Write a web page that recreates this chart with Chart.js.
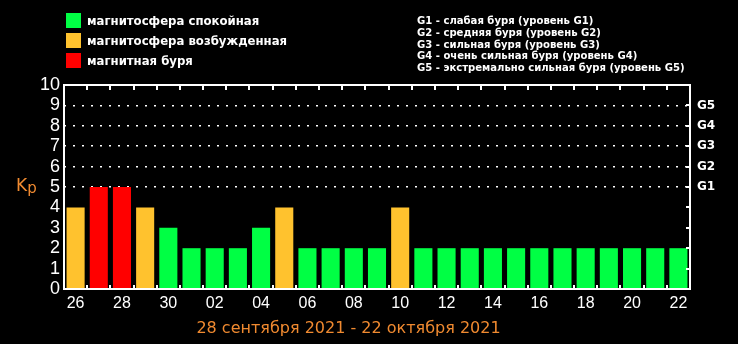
<!DOCTYPE html>
<html>
<head>
<meta charset="utf-8">
<script src="https://cdn.jsdelivr.net/npm/chart.js@4"></script>
<style>
  body { margin: 0; background: #000; }
  #wrap { position: relative; width: 738px; height: 344px; background: #000; overflow: hidden; }
  #kpChart { position: absolute; left: 0; top: 0; }
  .legend { position: absolute; left: 66px; top: 13px; font: bold 13px "DejaVu Sans Condensed", "DejaVu Sans", sans-serif; color: #fff; }
  .legend div { height: 20px; line-height: 16px; white-space: nowrap; }
  .legend span { display: inline-block; width: 15px; height: 15px; vertical-align: -3px; margin-right: 6px; }
  .glegend { position: absolute; left: 417px; top: 15px; font: bold 11.2px "DejaVu Sans Condensed", "DejaVu Sans", sans-serif; color: #fff; line-height: 11.8px; white-space: nowrap; }
  .kp { position: absolute; left: 16px; top: 175px; font: 17px "DejaVu Sans", sans-serif; color: #f08a30; }
  .period { position: absolute; left: 0; width: 697px; top: 318px; text-align: center; font: 16px "DejaVu Sans", sans-serif; color: #f08a30; }
</style>
</head>
<body>
<div id="wrap">
  <canvas id="kpChart" width="738" height="344"></canvas>
  <div class="legend" id="legend"></div>
  <div class="glegend" id="glegend"></div>
  <div class="kp">K<sub style="font-size:15px;vertical-align:-2px">p</sub></div>
  <div class="period" id="period"></div>
</div>
<script>
const days = ['26', '27', '28', '29', '30', '01', '02', '03', '04', '05', '06', '07', '08', '09', '10',
              '11', '12', '13', '14', '15', '16', '17', '18', '19', '20', '21', '22'];
const kp = [4, 5, 5, 4, 3, 2, 2, 2, 3, 4, 2, 2, 2, 2, 4, 2, 2, 2, 2, 2, 2, 2, 2, 2, 2, 2, 2];

const stateLabels = ['магнитосфера спокойная', 'магнитосфера возбужденная', 'магнитная буря'];
const gLevels = ['G1', 'G2', 'G3', 'G4', 'G5'];
const gNames = ['слабая буря', 'средняя буря', 'сильная буря', 'очень сильная буря', 'экстремально сильная буря'];
const gKp = [5, 6, 7, 8, 9];
const periodText = '28 сентября 2021 - 22 октября 2021';

const stateColors = ['#00ff44', '#ffc22e', '#ff0000'];

function colorFor(v) {
    if (v >= 5) return stateColors[2];
    if (v >= 4) return stateColors[1];
    return stateColors[0];
}

document.getElementById('legend').innerHTML = stateLabels
    .map((t, i) => `<div><span style="background:${stateColors[i]}"></span>${t}</div>`).join('');
document.getElementById('glegend').innerHTML = gLevels
    .map((g, i) => `${g} - ${gNames[i]} (уровень ${g})`).join('<br>');
document.getElementById('period').textContent = periodText;

// рамка графика с внутренними рисками
const framePlugin = {
    id: 'frame',
    afterDraw(chart) {
        const { ctx, chartArea: a } = chart;
        const x = chart.scales.x;
        const y = chart.scales.y;
        ctx.save();
        ctx.strokeStyle = '#fff';
        ctx.lineWidth = 2;
        ctx.beginPath();
        ctx.rect(a.left, a.top, a.right - a.left, a.bottom - a.top);
        for (let i = 1; i < days.length; i++) {
            const px = Math.round(x.getPixelForValue(i - 0.5));
            ctx.moveTo(px, a.top); ctx.lineTo(px, a.top + 5);
            ctx.moveTo(px, a.bottom); ctx.lineTo(px, a.bottom - 4);
        }
        for (let v = 1; v < 10; v++) {
            const py = Math.round(y.getPixelForValue(v));
            ctx.moveTo(a.right, py); ctx.lineTo(a.right - 4, py);
        }
        ctx.stroke();
        ctx.restore();
    }
};

new Chart(document.getElementById('kpChart'), {
    type: 'bar',
    data: {
        labels: days,
        datasets: [{
            data: kp,
            backgroundColor: kp.map(colorFor),
            borderWidth: 0,
            barPercentage: 0.78,
            categoryPercentage: 1
        }]
    },
    options: {
        responsive: false,
        devicePixelRatio: 1,
        animation: false,
        layout: { padding: { top: 85, left: 0, right: 0, bottom: 0 } },
        plugins: { legend: { display: false }, tooltip: { enabled: false } },
        scales: {
            x: {
                afterFit: s => { s.height = 55; },
                grid: { display: false, drawTicks: false },
                border: { display: false },
                ticks: {
                    color: '#fff',
                    font: { family: 'Liberation Sans', size: 16 },
                    padding: 5,
                    autoSkip: false,
                    maxRotation: 0,
                    callback: (v, i) => (i % 2 === 0 ? days[i] : '')
                }
            },
            y: {
                min: 0, max: 10,
                afterFit: s => { s.width = 64; },
                grid: {
                    drawTicks: false,
                    lineWidth: 1.5,
                    color: c => (c.tick.value >= 5 && c.tick.value <= 9 ? '#ffffff' : 'rgba(0,0,0,0)')
                },
                border: { display: false, dash: [2, 7] },
                ticks: {
                    stepSize: 1,
                    autoSkip: false,
                    color: '#fff',
                    padding: 4,
                    font: { family: 'Liberation Sans', size: 18 }
                }
            },
            y2: {
                position: 'right',
                min: 0, max: 10,
                afterFit: s => { s.width = 48; },
                grid: { display: false, drawTicks: false },
                border: { display: false },
                ticks: {
                    stepSize: 1,
                    autoSkip: false,
                    color: '#fff',
                    padding: 7,
                    font: { family: 'DejaVu Sans', size: 12, weight: 'bold' },
                    callback: v => {
                        const k = gKp.indexOf(v);
                        return k >= 0 ? gLevels[k] : '';
                    }
                }
            }
        }
    },
    plugins: [framePlugin]
});
</script>
</body>
</html>
